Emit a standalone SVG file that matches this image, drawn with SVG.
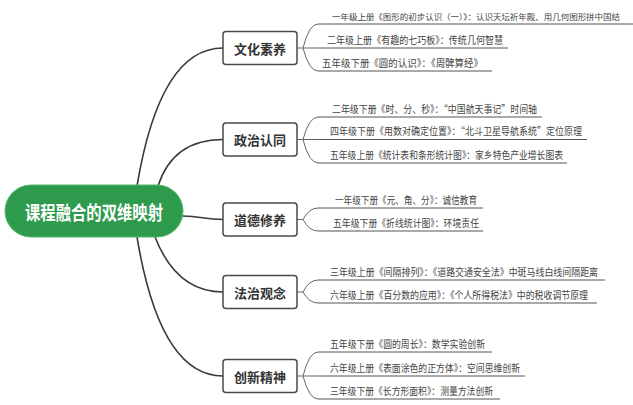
<svg xmlns="http://www.w3.org/2000/svg" width="633" height="405" viewBox="0 0 633 405">
<style>
.main{fill:none;stroke:#3a3a3a;stroke-width:1.6}
.fork{fill:none;stroke:#666;stroke-width:1}
.ul{fill:none;stroke:#555;stroke-width:1}
.box{fill:#fff;stroke:#4a4a4a;stroke-width:1.5}
.bt{font-family:"Noto Sans CJK SC","Noto Sans",sans-serif;font-size:13px;font-weight:bold;fill:#333;text-anchor:middle;dominant-baseline:central}
.lt{font-family:"Noto Sans CJK SC","Noto Sans",sans-serif;font-size:10px;fill:#444}
.ct{font-family:"Noto Sans CJK SC","Noto Sans",sans-serif;font-size:19px;font-weight:bold;fill:#fff;text-anchor:middle;dominant-baseline:central}
</style>
<rect width="633" height="405" fill="#fff"/>
<g id="connectors">
<path class="main" d="M137,186 Q160,48 223,48"/>
<path class="main" d="M158,186 C168,155 190,139.5 223,139.5"/>
<path class="main" d="M183,216 C200,216 205,219.5 223,219.5"/>
<path class="main" d="M155,237 C168,270 190,292 223,292"/>
<path class="main" d="M137,237 Q160,376 223,376"/>
<path class="fork" d="M297,48 H318 M303,48 Q309,24 318,24 M303,48 Q309,71 318,71"/>
<path class="fork" d="M297,139.5 H318 M303,139.5 Q309,117 318,117 M303,139.5 Q309,163 318,163"/>
<path class="fork" d="M297,219.5 H303 M303,219.5 Q309,208 318,208 M303,219.5 Q309,231 318,231"/>
<path class="fork" d="M297,292 H303 M303,292 Q309,280 318,280 M303,292 Q309,303 318,303"/>
<path class="fork" d="M297,376 H318 M303,376 Q309,352 318,352 M303,376 Q309,399 318,399"/>
</g>
<g id="center">
<rect x="5" y="185" width="178" height="52" rx="26" fill="#2e9a4c" stroke="#4fb866" stroke-width="1"/>
<text class="ct" x="94" y="211" textLength="138" lengthAdjust="spacingAndGlyphs">课程融合的双维映射</text>
</g>
<g id="b1"><rect class="box" x="223" y="31.5" width="74" height="33" rx="3"/><text class="bt" x="260" y="48">文化素养</text></g>
<g id="b2"><rect class="box" x="223" y="123" width="74" height="33" rx="3"/><text class="bt" x="260" y="139.5">政治认同</text></g>
<g id="b3"><rect class="box" x="223" y="203" width="74" height="33" rx="3"/><text class="bt" x="260" y="219.5">道德修养</text></g>
<g id="b4"><rect class="box" x="223" y="275.5" width="74" height="33" rx="3"/><text class="bt" x="260" y="292">法治观念</text></g>
<g id="b5"><rect class="box" x="223" y="359.5" width="74" height="33" rx="3"/><text class="bt" x="260" y="376">创新精神</text></g>
<g id="l1a"><path class="ul" d="M318,24 H633"/><text class="lt" x="332" y="19.5" style="font-size:8.2px" textLength="288" lengthAdjust="spacingAndGlyphs">一年级上册《图形的初步认识（一）》：认识天坛祈年殿、用几何图形拼中国结</text></g>
<g id="l1b"><path class="ul" d="M318,48 H508"/><text class="lt" x="327" y="44" textLength="176" lengthAdjust="spacingAndGlyphs">二年级上册《有趣的七巧板》：传统几何智慧</text></g>
<g id="l1c"><path class="ul" d="M318,71 H492"/><text class="lt" x="322" y="66.5" textLength="161" lengthAdjust="spacingAndGlyphs">五年级下册《圆的认识》：《周髀算经》</text></g>
<g id="l2a"><path class="ul" d="M318,117 H542"/><text class="lt" x="332" y="112.5" textLength="205" lengthAdjust="spacingAndGlyphs">二年级下册《时、分、秒》：“中国航天事记”时间轴</text></g>
<g id="l2b"><path class="ul" d="M318,139.5 H587"/><text class="lt" x="330" y="135" textLength="252" lengthAdjust="spacingAndGlyphs">四年级下册《用数对确定位置》：“北斗卫星导航系统”定位原理</text></g>
<g id="l2c"><path class="ul" d="M318,163 H567"/><text class="lt" x="330" y="158.5" textLength="233" lengthAdjust="spacingAndGlyphs">五年级上册《统计表和条形统计图》：家乡特色产业增长图表</text></g>
<g id="l3a"><path class="ul" d="M318,208 H483"/><text class="lt" x="335" y="203.5" textLength="142" lengthAdjust="spacingAndGlyphs">一年级下册《元、角、分》：诚信教育</text></g>
<g id="l3b"><path class="ul" d="M318,231 H483"/><text class="lt" x="333" y="226.5" textLength="146" lengthAdjust="spacingAndGlyphs">五年级下册《折线统计图》：环境责任</text></g>
<g id="l4a"><path class="ul" d="M318,280 H605"/><text class="lt" x="330" y="275.5" textLength="268" lengthAdjust="spacingAndGlyphs">三年级上册《间隔排列》：《道路交通安全法》中斑马线白线间隔距离</text></g>
<g id="l4b"><path class="ul" d="M318,303 H597"/><text class="lt" x="330" y="298.5" textLength="258" lengthAdjust="spacingAndGlyphs">六年级上册《百分数的应用》：《个人所得税法》中的税收调节原理</text></g>
<g id="l5a"><path class="ul" d="M318,352 H492"/><text class="lt" x="330" y="347.5" textLength="155" lengthAdjust="spacingAndGlyphs">五年级下册《圆的周长》：数学实验创新</text></g>
<g id="l5b"><path class="ul" d="M318,376 H525"/><text class="lt" x="330" y="371.5" textLength="190" lengthAdjust="spacingAndGlyphs">六年级上册《表面涂色的正方体》：空间思维创新</text></g>
<g id="l5c"><path class="ul" d="M318,399 H500"/><text class="lt" x="330" y="394.5" textLength="163" lengthAdjust="spacingAndGlyphs">三年级下册《长方形面积》：测量方法创新</text></g>
</svg>
